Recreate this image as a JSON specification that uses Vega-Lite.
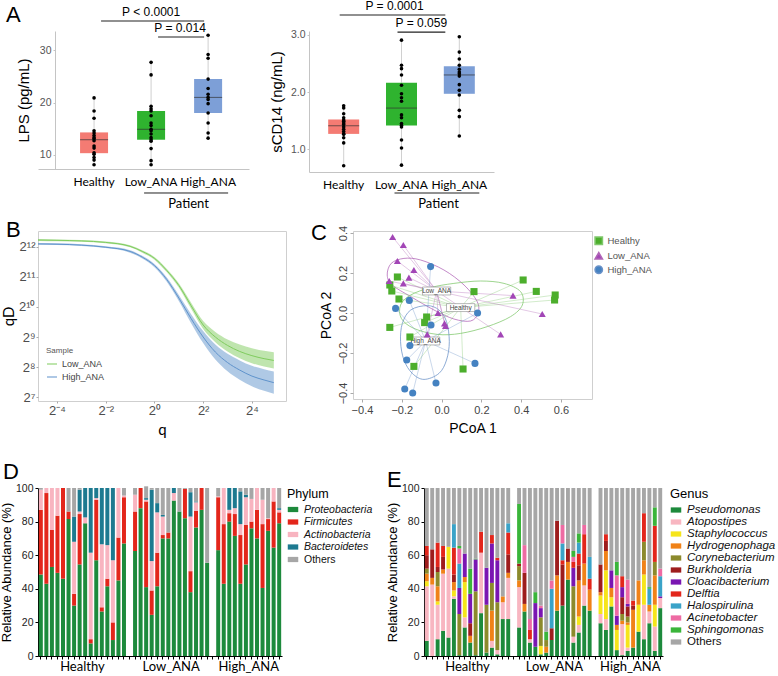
{
"$schema":"https://vega.github.io/schema/vega-lite/v6.json",
"padding":{"left":0,"top":0,"right":0,"bottom":0},
"background":"white",
"config":{
  "font":"Liberation Sans",
  "view":{"stroke":null},
  "axis":{"grid":false,"titleFontWeight":"normal","labelFont":"Liberation Sans","titleFont":"Liberation Sans"},
  "axisY":{"labelOverlap":false},
  "legend":{"titleFontWeight":"normal","labelFont":"Liberation Sans","titleFont":"Liberation Sans"},
  "title":{"fontWeight":"normal","font":"Liberation Sans","fontSize":22,"anchor":"start","frame":"group","offset":0,"color":"black"}
},
"datasets":{
  "lps":[
    {"grp":"Healthy","v":8.1},{"grp":"Healthy","v":9.0},{"grp":"Healthy","v":9.5},{"grp":"Healthy","v":10.1},{"grp":"Healthy","v":10.4},{"grp":"Healthy","v":11.3},{"grp":"Healthy","v":11.7},{"grp":"Healthy","v":12.7},{"grp":"Healthy","v":13.1},{"grp":"Healthy","v":13.3},{"grp":"Healthy","v":13.7},{"grp":"Healthy","v":14.2},{"grp":"Healthy","v":14.6},{"grp":"Healthy","v":17.0},{"grp":"Healthy","v":18.4},{"grp":"Healthy","v":20.9},
    {"grp":"Low_ANA","v":8.1},{"grp":"Low_ANA","v":8.9},{"grp":"Low_ANA","v":11.2},{"grp":"Low_ANA","v":12.6},{"grp":"Low_ANA","v":12.9},{"grp":"Low_ANA","v":13.3},{"grp":"Low_ANA","v":14.0},{"grp":"Low_ANA","v":14.6},{"grp":"Low_ANA","v":14.9},{"grp":"Low_ANA","v":15.6},{"grp":"Low_ANA","v":16.1},{"grp":"Low_ANA","v":17.5},{"grp":"Low_ANA","v":18.4},{"grp":"Low_ANA","v":18.8},{"grp":"Low_ANA","v":19.3},{"grp":"Low_ANA","v":25.3},{"grp":"Low_ANA","v":27.7},
    {"grp":"High_ANA","v":13.2},{"grp":"High_ANA","v":14.2},{"grp":"High_ANA","v":16.1},{"grp":"High_ANA","v":18.0},{"grp":"High_ANA","v":19.8},{"grp":"High_ANA","v":20.6},{"grp":"High_ANA","v":21.0},{"grp":"High_ANA","v":21.6},{"grp":"High_ANA","v":22.7},{"grp":"High_ANA","v":24.5},{"grp":"High_ANA","v":28.5},{"grp":"High_ANA","v":29.2},{"grp":"High_ANA","v":32.9}
  ],
  "scd":[
    {"grp":"Healthy","v":0.71},{"grp":"Healthy","v":1.11},{"grp":"Healthy","v":1.20},{"grp":"Healthy","v":1.26},{"grp":"Healthy","v":1.27},{"grp":"Healthy","v":1.31},{"grp":"Healthy","v":1.35},{"grp":"Healthy","v":1.39},{"grp":"Healthy","v":1.43},{"grp":"Healthy","v":1.46},{"grp":"Healthy","v":1.49},{"grp":"Healthy","v":1.51},{"grp":"Healthy","v":1.55},{"grp":"Healthy","v":1.62},{"grp":"Healthy","v":1.72},{"grp":"Healthy","v":1.76},
    {"grp":"Low_ANA","v":0.72},{"grp":"Low_ANA","v":1.02},{"grp":"Low_ANA","v":1.16},{"grp":"Low_ANA","v":1.39},{"grp":"Low_ANA","v":1.42},{"grp":"Low_ANA","v":1.45},{"grp":"Low_ANA","v":1.55},{"grp":"Low_ANA","v":1.60},{"grp":"Low_ANA","v":1.84},{"grp":"Low_ANA","v":1.90},{"grp":"Low_ANA","v":1.97},{"grp":"Low_ANA","v":2.12},{"grp":"Low_ANA","v":2.30},{"grp":"Low_ANA","v":2.41},{"grp":"Low_ANA","v":2.47},{"grp":"Low_ANA","v":2.91},
    {"grp":"High_ANA","v":1.23},{"grp":"High_ANA","v":1.57},{"grp":"High_ANA","v":1.68},{"grp":"High_ANA","v":1.95},{"grp":"High_ANA","v":2.03},{"grp":"High_ANA","v":2.13},{"grp":"High_ANA","v":2.28},{"grp":"High_ANA","v":2.32},{"grp":"High_ANA","v":2.35},{"grp":"High_ANA","v":2.40},{"grp":"High_ANA","v":2.47},{"grp":"High_ANA","v":2.58},{"grp":"High_ANA","v":2.70},{"grp":"High_ANA","v":2.97}
  ],
  "sigL":[{"x1":"Healthy","x2":"High_ANA","mid":"Low_ANA","y":35.6,"label":"P < 0.0001","lvl":1},{"x1":"Low_ANA","x2":"High_ANA","mid":"High_ANA","y":32.55,"label":"P = 0.014","lvl":2}],
  "patL":[{"x1":"Low_ANA","x2":"High_ANA","y":2.71}],
  "sigR":[{"x1":"Healthy","x2":"High_ANA","mid":"Low_ANA","y":3.35,"label":"P = 0.0001","lvl":1},{"x1":"Low_ANA","x2":"High_ANA","mid":"High_ANA","y":3.05,"label":"P = 0.059","lvl":2}],
  "patR":[{"x1":"Low_ANA","x2":"High_ANA","y":0.232}],
  "div":[
    {"Sample":"Low_ANA","lq":-4.78,"ld":12.23,"lo":12.20,"hi":12.26},
    {"Sample":"Low_ANA","lq":-4,"ld":12.22,"lo":12.19,"hi":12.25},
    {"Sample":"Low_ANA","lq":-3,"ld":12.20,"lo":12.17,"hi":12.23},
    {"Sample":"Low_ANA","lq":-2,"ld":12.15,"lo":12.12,"hi":12.18},
    {"Sample":"Low_ANA","lq":-1,"ld":12.02,"lo":11.985,"hi":12.055},
    {"Sample":"Low_ANA","lq":-0.5,"ld":11.85,"lo":11.81,"hi":11.89},
    {"Sample":"Low_ANA","lq":0,"ld":11.62,"lo":11.575,"hi":11.665},
    {"Sample":"Low_ANA","lq":0.5,"ld":11.22,"lo":11.165,"hi":11.275},
    {"Sample":"Low_ANA","lq":1,"ld":10.72,"lo":10.65,"hi":10.79},
    {"Sample":"Low_ANA","lq":1.5,"ld":10.05,"lo":9.95,"hi":10.15},
    {"Sample":"Low_ANA","lq":2,"ld":9.40,"lo":9.27,"hi":9.53},
    {"Sample":"Low_ANA","lq":2.5,"ld":9.00,"lo":8.83,"hi":9.17},
    {"Sample":"Low_ANA","lq":3,"ld":8.72,"lo":8.52,"hi":8.92},
    {"Sample":"Low_ANA","lq":3.5,"ld":8.52,"lo":8.29,"hi":8.75},
    {"Sample":"Low_ANA","lq":4,"ld":8.38,"lo":8.13,"hi":8.63},
    {"Sample":"Low_ANA","lq":4.5,"ld":8.28,"lo":8.02,"hi":8.54},
    {"Sample":"Low_ANA","lq":4.9,"ld":8.22,"lo":7.95,"hi":8.49},
    {"Sample":"High_ANA","lq":-4.78,"ld":12.10,"lo":12.07,"hi":12.13},
    {"Sample":"High_ANA","lq":-4,"ld":12.09,"lo":12.06,"hi":12.12},
    {"Sample":"High_ANA","lq":-3,"ld":12.06,"lo":12.03,"hi":12.09},
    {"Sample":"High_ANA","lq":-2,"ld":11.99,"lo":11.96,"hi":12.02},
    {"Sample":"High_ANA","lq":-1,"ld":11.85,"lo":11.81,"hi":11.89},
    {"Sample":"High_ANA","lq":-0.5,"ld":11.66,"lo":11.615,"hi":11.705},
    {"Sample":"High_ANA","lq":0,"ld":11.38,"lo":11.325,"hi":11.435},
    {"Sample":"High_ANA","lq":0.5,"ld":10.92,"lo":10.85,"hi":10.99},
    {"Sample":"High_ANA","lq":1,"ld":10.30,"lo":10.20,"hi":10.40},
    {"Sample":"High_ANA","lq":1.5,"ld":9.62,"lo":9.47,"hi":9.77},
    {"Sample":"High_ANA","lq":2,"ld":9.00,"lo":8.80,"hi":9.20},
    {"Sample":"High_ANA","lq":2.5,"ld":8.50,"lo":8.25,"hi":8.75},
    {"Sample":"High_ANA","lq":3,"ld":8.15,"lo":7.86,"hi":8.44},
    {"Sample":"High_ANA","lq":3.5,"ld":7.90,"lo":7.58,"hi":8.22},
    {"Sample":"High_ANA","lq":4,"ld":7.70,"lo":7.36,"hi":8.04},
    {"Sample":"High_ANA","lq":4.5,"ld":7.57,"lo":7.21,"hi":7.93},
    {"Sample":"High_ANA","lq":4.9,"ld":7.48,"lo":7.11,"hi":7.85}
  ],
  "pco":[
    {"grp":"Healthy","x":-0.222,"y":0.18},{"grp":"Healthy","x":-0.26,"y":0.14},{"grp":"Healthy","x":-0.25,"y":0.11},{"grp":"Healthy","x":-0.214,"y":0.07},{"grp":"Healthy","x":0.163,"y":0.107},{"grp":"Healthy","x":0.41,"y":0.165},{"grp":"Healthy","x":0.476,"y":0.108},{"grp":"Healthy","x":0.571,"y":0.09},{"grp":"Healthy","x":0.568,"y":0.065},{"grp":"Healthy","x":-0.075,"y":-0.02},{"grp":"Healthy","x":-0.085,"y":-0.048},{"grp":"Healthy","x":-0.26,"y":-0.072},{"grp":"Healthy","x":-0.159,"y":-0.12},{"grp":"Healthy","x":-0.139,"y":-0.267},{"grp":"Healthy","x":0.108,"y":-0.28},
    {"grp":"Low_ANA","x":-0.246,"y":0.38},{"grp":"Low_ANA","x":-0.192,"y":0.34},{"grp":"Low_ANA","x":-0.222,"y":0.26},{"grp":"Low_ANA","x":-0.139,"y":0.215},{"grp":"Low_ANA","x":-0.263,"y":0.16},{"grp":"Low_ANA","x":-0.164,"y":0.177},{"grp":"Low_ANA","x":-0.192,"y":0.148},{"grp":"Low_ANA","x":0.359,"y":0.087},{"grp":"Low_ANA","x":0.506,"y":-0.005},{"grp":"Low_ANA","x":-0.018,"y":0.0},{"grp":"Low_ANA","x":0.015,"y":-0.052},{"grp":"Low_ANA","x":0.02,"y":-0.065},{"grp":"Low_ANA","x":-0.072,"y":-0.107},{"grp":"Low_ANA","x":0.297,"y":-0.107},
    {"grp":"High_ANA","x":-0.055,"y":0.232},{"grp":"High_ANA","x":-0.162,"y":0.063},{"grp":"High_ANA","x":-0.231,"y":0.023},{"grp":"High_ANA","x":0.181,"y":0.0},{"grp":"High_ANA","x":-0.053,"y":-0.06},{"grp":"High_ANA","x":-0.159,"y":-0.163},{"grp":"High_ANA","x":-0.175,"y":-0.235},{"grp":"High_ANA","x":0.168,"y":-0.252},{"grp":"High_ANA","x":-0.028,"y":-0.35},{"grp":"High_ANA","x":-0.185,"y":-0.38},{"grp":"High_ANA","x":-0.145,"y":-0.40}
  ],
  "cent":[{"grp":"Low_ANA","cg":"Low_ANA","cx":-0.025,"cy":0.11},{"grp":"Healthy","cg":"Healthy","cx":0.096,"cy":0.027},{"grp":"High_ANA","cg":"High_ANA","cx":-0.08,"cy":-0.14}],
  "ell":[
    {"eg":"Low_ANA","ord":1,"ex":-0.273,"ey":0.19},{"eg":"Low_ANA","ord":2,"ex":-0.253,"ey":0.248},{"eg":"Low_ANA","ord":3,"ex":-0.189,"ey":0.273},{"eg":"Low_ANA","ord":4,"ex":-0.105,"ey":0.265},{"eg":"Low_ANA","ord":5,"ex":0.012,"ey":0.215},{"eg":"Low_ANA","ord":6,"ex":0.113,"ey":0.14},{"eg":"Low_ANA","ord":7,"ex":0.179,"ey":0.057},{"eg":"Low_ANA","ord":8,"ex":0.183,"ey":-0.002},{"eg":"Low_ANA","ord":9,"ex":0.146,"ey":-0.04},{"eg":"Low_ANA","ord":10,"ex":0.062,"ey":-0.03},{"eg":"Low_ANA","ord":11,"ex":-0.038,"ey":0.015},{"eg":"Low_ANA","ord":12,"ex":-0.155,"ey":0.082},{"eg":"Low_ANA","ord":13,"ex":-0.248,"ey":0.14},
    {"eg":"Healthy","ord":1,"ex":-0.206,"ey":0.04},{"eg":"Healthy","ord":2,"ex":-0.155,"ey":0.09},{"eg":"Healthy","ord":3,"ex":-0.055,"ey":0.127},{"eg":"Healthy","ord":4,"ex":0.062,"ey":0.148},{"eg":"Healthy","ord":5,"ex":0.196,"ey":0.16},{"eg":"Healthy","ord":6,"ex":0.314,"ey":0.148},{"eg":"Healthy","ord":7,"ex":0.397,"ey":0.107},{"eg":"Healthy","ord":8,"ex":0.406,"ey":0.04},{"eg":"Healthy","ord":9,"ex":0.347,"ey":-0.018},{"eg":"Healthy","ord":10,"ex":0.23,"ey":-0.068},{"eg":"Healthy","ord":11,"ex":0.096,"ey":-0.102},{"eg":"Healthy","ord":12,"ex":-0.022,"ey":-0.107},{"eg":"Healthy","ord":13,"ex":-0.139,"ey":-0.077},{"eg":"Healthy","ord":14,"ex":-0.202,"ey":-0.027},
    {"eg":"High_ANA","ord":1,"ex":-0.072,"ey":0.037},{"eg":"High_ANA","ord":2,"ex":-0.013,"ey":0.015},{"eg":"High_ANA","ord":3,"ex":0.025,"ey":-0.043},{"eg":"High_ANA","ord":4,"ex":0.039,"ey":-0.143},{"eg":"High_ANA","ord":5,"ex":0.025,"ey":-0.235},{"eg":"High_ANA","ord":6,"ex":-0.013,"ey":-0.302},{"eg":"High_ANA","ord":7,"ex":-0.088,"ey":-0.332},{"eg":"High_ANA","ord":8,"ex":-0.147,"ey":-0.302},{"eg":"High_ANA","ord":9,"ex":-0.189,"ey":-0.235},{"eg":"High_ANA","ord":10,"ex":-0.206,"ey":-0.143},{"eg":"High_ANA","ord":11,"ex":-0.197,"ey":-0.052},{"eg":"High_ANA","ord":12,"ex":-0.155,"ey":0.015}
  ],
  "phyla":[{"code":"Pro","name":"Proteobacteria","rank":1},{"code":"Fir","name":"Firmicutes","rank":2},{"code":"Act","name":"Actinobacteria","rank":3},{"code":"Bac","name":"Bacteroidetes","rank":4},{"code":"Oth","name":"Others","rank":5}],
  "genera":[{"code":"Pse","name":"Pseudomonas","rank":1},{"code":"Ato","name":"Atopostipes","rank":2},{"code":"Sta","name":"Staphylococcus","rank":3},{"code":"Hyd","name":"Hydrogenophaga","rank":4},{"code":"Cor","name":"Corynebacterium","rank":5},{"code":"Bur","name":"Burkholderia","rank":6},{"code":"Clo","name":"Cloacibacterium","rank":7},{"code":"Del","name":"Delftia","rank":8},{"code":"Hal","name":"Halospirulina","rank":9},{"code":"Aci","name":"Acinetobacter","rank":10},{"code":"Sph","name":"Sphingomonas","rank":11},{"code":"Oth","name":"Others","rank":12}],
  "phy":[
    {"s":"H1","Pro":48.5,"Fir":38.5,"Act":12,"Oth":1},{"s":"H2","Pro":43,"Fir":54,"Act":3},{"s":"H3","Pro":53,"Fir":22,"Act":25},{"s":"H4","Pro":49.5,"Fir":34,"Act":16.5},{"s":"H5","Pro":46,"Fir":54},{"s":"H6","Pro":81.5,"Fir":4.5,"Oth":14},{"s":"H7","Pro":30,"Fir":7,"Act":31,"Bac":15,"Oth":17},{"s":"H8","Pro":54.5,"Fir":30,"Act":1.5,"Bac":13,"Oth":1},{"s":"H9","Pro":79,"Act":3.5,"Bac":17.5},{"s":"H10","Pro":7.5,"Fir":2.5,"Act":51.5,"Bac":38.5},{"s":"H11","Pro":57,"Fir":36,"Act":1,"Bac":6},{"s":"H12","Pro":26.5,"Fir":2.5,"Act":37.5,"Bac":33.5},{"s":"H13","Pro":41.5,"Fir":4.5,"Act":20,"Bac":34},{"s":"H14","Pro":9.5,"Fir":10.5,"Act":37,"Bac":43},{"s":"H15","Pro":45,"Fir":25.5,"Act":29.5},{"s":"H16","Pro":67,"Fir":27.5,"Act":1,"Oth":4.5},
    {"s":"L1","Pro":62.5,"Fir":23.5,"Act":10,"Oth":4},{"s":"L2","Pro":88,"Fir":12},{"s":"L3","Pro":41,"Fir":51,"Act":1,"Bac":1,"Oth":7},{"s":"L4","Pro":24.5,"Fir":14.5,"Act":17.5,"Bac":42.5,"Oth":1},{"s":"L5","Pro":41.5,"Fir":20,"Act":24,"Bac":5.5,"Oth":9},{"s":"L6","Pro":70,"Fir":2,"Act":11,"Bac":1,"Oth":16},{"s":"L7","Pro":70,"Fir":3.5,"Oth":26.5},{"s":"L8","Pro":92.5,"Act":4.5,"Bac":3},{"s":"L9","Pro":86,"Oth":14},{"s":"L10","Pro":82,"Fir":17.5,"Oth":0.5},{"s":"L11","Pro":38,"Fir":12.5,"Act":32.5,"Bac":14.5,"Oth":2.5},{"s":"L12","Pro":76.5,"Fir":10,"Act":5,"Bac":0.5,"Oth":8},{"s":"L13","Pro":87,"Fir":13},{"s":"L14","Pro":55.5,"Oth":44.5},
    {"s":"P1","Pro":63,"Fir":31.5,"Act":0.5,"Oth":5},{"s":"P2","Pro":43,"Fir":35.5,"Act":21.5},{"s":"P3","Pro":80,"Fir":5,"Act":2,"Bac":13},{"s":"P4","Pro":71.5,"Fir":13,"Act":3.5,"Bac":12},{"s":"P5","Pro":43,"Fir":29,"Act":6.5,"Bac":19.5,"Oth":2},{"s":"P6","Pro":54.5,"Fir":23.5,"Act":16.5,"Bac":1.5,"Oth":4},{"s":"P7","Pro":76,"Fir":4,"Act":13.5,"Oth":6.5},{"s":"P8","Pro":70,"Fir":17,"Act":13},{"s":"P9","Pro":40.5,"Fir":38,"Act":14.5,"Oth":7},{"s":"P10","Pro":74.5,"Fir":7,"Act":0.5,"Oth":18},{"s":"P11","Pro":64.5,"Fir":27.5,"Act":8},{"s":"P12","Pro":79,"Fir":6.5,"Act":1.5,"Bac":1,"Oth":12}
  ],
  "gen":[
    {"s":"H1","Pse":9,"Ato":32.5,"Sta":3,"Hyd":4.5,"Cor":3,"Bur":8,"Del":5.5,"Oth":34.5},
    {"s":"H2","Ato":42.5,"Hyd":4,"Bur":17,"Oth":36.5},
    {"s":"H3","Pse":10,"Ato":20.5,"Sta":2,"Hyd":9,"Cor":8.5,"Bur":3,"Del":14.5,"Oth":32.5},
    {"s":"H4","Pse":15,"Ato":34,"Hyd":2.5,"Bur":7.5,"Del":6.5,"Oth":34.5},
    {"s":"H5","Pse":11,"Ato":41,"Sta":13,"Oth":35},
    {"s":"H6","Pse":34,"Ato":1.5,"Sta":3.5,"Hyd":5,"Bur":4.5,"Del":16,"Hal":14,"Oth":21.5},
    {"s":"H7","Pse":0.5,"Cor":24.5,"Clo":15.5,"Hal":14.5,"Aci":9,"Sph":1.5,"Oth":34.5},
    {"s":"H8","Pse":17,"Ato":6,"Sta":21,"Hyd":3,"Clo":14,"Oth":39},
    {"s":"H9","Pse":8,"Hyd":4,"Bur":7.5,"Clo":17.5,"Sph":15,"Oth":48},
    {"s":"H10","Pse":0.5,"Cor":38,"Clo":19,"Sph":0.5,"Oth":42},
    {"s":"H11","Pse":25.5,"Ato":36,"Del":12.5,"Oth":26},
    {"s":"H12","Pse":2,"Cor":28.5,"Clo":22,"Oth":47.5},
    {"s":"H13","Pse":5,"Ato":4,"Hyd":18,"Cor":16.5,"Clo":23.5,"Del":5,"Oth":28},
    {"s":"H14","Pse":1,"Ato":2.5,"Cor":28.5,"Clo":25,"Del":1.5,"Oth":41.5},
    {"s":"H15","Pse":22,"Ato":10,"Hyd":3.5,"Oth":64.5},
    {"s":"H16","Pse":22,"Ato":24.5,"Hyd":3,"Bur":11,"Del":13,"Hal":5.5,"Oth":21},
    {"s":"L1","Pse":17,"Ato":24,"Hyd":4,"Cor":8.5,"Bur":1.5,"Sph":35.5,"Oth":9.5},
    {"s":"L2","Pse":26.5,"Hyd":4.5,"Bur":18.5,"Aci":16.5,"Oth":34},
    {"s":"L3","Pse":8,"Ato":2,"Del":5.5,"Aci":6.5,"Oth":78},
    {"s":"L4","Pse":5.5,"Clo":26,"Sph":6.5,"Oth":62},
    {"s":"L5","Pse":1,"Sta":5,"Cor":17,"Clo":5.5,"Aci":1.5,"Oth":70},
    {"s":"L6","Pse":2,"Hyd":3.5,"Cor":4,"Sph":5,"Oth":85.5},
    {"s":"L7","Pse":9.5,"Bur":7,"Hal":23.5,"Aci":5,"Oth":55},
    {"s":"L8","Pse":27,"Hyd":21,"Bur":32.5,"Oth":19.5},
    {"s":"L9","Pse":30,"Bur":24.5,"Del":2.5,"Hal":10,"Aci":11,"Oth":22},
    {"s":"L10","Pse":45.5,"Hyd":10.5,"Bur":8,"Oth":36},
    {"s":"L11","Pse":8,"Ato":3.5,"Cor":30,"Clo":11,"Del":3.5,"Aci":3,"Sph":3.5,"Oth":37.5},
    {"s":"L12","Pse":14,"Ato":4.5,"Sta":5,"Hyd":21.5,"Bur":9,"Del":7,"Hal":6.5,"Sph":5.5,"Oth":27},
    {"s":"L13","Pse":30,"Ato":12,"Hyd":13,"Del":17.5,"Aci":5.5,"Oth":22},
    {"s":"L14","Pse":27,"Hyd":12.5,"Del":6.5,"Hal":13,"Oth":41},
    {"s":"P1","Pse":19.5,"Ato":5.5,"Sta":11,"Hyd":2,"Bur":16.5,"Oth":45.5},
    {"s":"P2","Pse":15.5,"Ato":6.5,"Sta":29,"Hyd":11.5,"Bur":6,"Del":4,"Oth":27.5},
    {"s":"P3","Pse":29.5,"Sta":5.5,"Hyd":5.5,"Clo":10.5,"Oth":49},
    {"s":"P4","Pse":3.5,"Sta":12,"Hyd":3,"Clo":5.5,"Aci":24,"Sph":8,"Oth":44},
    {"s":"P5","Pse":0.5,"Ato":18.5,"Hyd":2,"Cor":4,"Bur":10,"Clo":6,"Del":6.5,"Oth":52.5},
    {"s":"P6","Pse":3,"Ato":2,"Sta":13.5,"Hyd":1.5,"Cor":3.5,"Bur":6,"Clo":1.5,"Aci":14.5,"Oth":54.5},
    {"s":"P7","Pse":5,"Hyd":22.5,"Bur":2.5,"Del":3,"Oth":67},
    {"s":"P8","Pse":14.5,"Sta":16,"Hyd":14.5,"Oth":55},
    {"s":"P9","Pse":10,"Ato":20.5,"Sta":18,"Hyd":8.5,"Cor":11,"Del":17,"Oth":15},
    {"s":"P10","Pse":19.5,"Ato":7,"Hyd":4,"Hal":9.5,"Sph":1,"Oth":59},
    {"s":"P11","Pse":3,"Ato":14.5,"Sta":13,"Hyd":17.5,"Cor":8,"Del":21.5,"Sph":11,"Oth":11.5},
    {"s":"P12","Pse":28.5,"Ato":6,"Clo":1,"Hal":12,"Aci":4.5,"Oth":48}
  ]
},
"align":"none",
"resolve":{"scale":{"x":"independent","y":"independent","color":"independent","stroke":"independent","shape":"independent"},"legend":{"color":"independent","stroke":"independent","shape":"independent"},"axis":{"x":"independent","y":"independent"}},
"vconcat":[
  {"resolve":{"scale":{"x":"independent","y":"independent","color":"independent","stroke":"independent","shape":"independent"},"legend":{"color":"independent","stroke":"independent","shape":"independent"},"axis":{"x":"independent","y":"independent"}},
   "hconcat":[
    {"width":211,"height":138,
     "title":{"text":"A","dx":-32,"dy":25},
     "layer":[
       {"data":{"name":"lps"},
        "mark":{"type":"boxplot","extent":"min-max","size":28,"median":{"color":"#333333","strokeWidth":1},"rule":{"color":"#c4c4c4","strokeWidth":0.8},"ticks":false,"outliers":false},
        "encoding":{
          "x":{"field":"grp","type":"nominal","scale":{"domain":["Healthy","Low_ANA","High_ANA"],"paddingInner":0,"paddingOuter":0.35,"align":0.69},
               "axis":{"title":"Patient","titleX":150,"titleY":34,"titleBaseline":"middle","titleAlign":"center","titleFont":"Lato","titleFontSize":13,"titleColor":"black","labelFont":"Lato","labelFontSize":12,"labelColor":"black","labelAngle":0,"ticks":false,"domainColor":"#c4c4c4","labelPadding":7}},
          "y":{"field":"v","type":"quantitative","scale":{"domain":[7.3,33.7],"nice":false,"zero":false},
               "axis":{"title":"LPS (pg/mL)","offset":-17,"values":[10,15,20,25,30],"domainColor":"#c4c4c4","tickColor":"#c4c4c4","tickSize":2,"labelColor":"#555555","labelFontSize":10.5,"titleFontSize":15,"titleColor":"black","titlePadding":8,"labelPadding":2}},
          "color":{"field":"grp","type":"nominal","scale":{"domain":["Healthy","Low_ANA","High_ANA"],"range":["#f47b73","#2fb32f","#7d9fd7"]},"legend":null}
        }},
       {"data":{"name":"lps"},"mark":{"type":"circle","size":13,"color":"black","opacity":1},
        "encoding":{"x":{"field":"grp","type":"nominal"},"y":{"field":"v","type":"quantitative"}}},
       {"data":{"name":"sigL"},"mark":{"type":"rule","color":"#222222","strokeWidth":1.1,"xOffset":7,"x2Offset":-4},
        "encoding":{"x":{"field":"x1","type":"nominal"},"x2":{"field":"x2"},"y":{"field":"y","type":"quantitative"}}},
       {"data":{"name":"sigL"},"transform":[{"filter":"datum.lvl == 1"}],"mark":{"type":"text","baseline":"bottom","dy":-2,"fontSize":12,"color":"black"},
        "encoding":{"x":{"field":"mid","type":"nominal"},"y":{"field":"y","type":"quantitative"},"text":{"field":"label"}}},
       {"data":{"name":"sigL"},"transform":[{"filter":"datum.lvl == 2"}],"mark":{"type":"text","baseline":"bottom","dy":-2,"dx":-28,"fontSize":12,"color":"black"},
        "encoding":{"x":{"field":"mid","type":"nominal"},"y":{"field":"y","type":"quantitative"},"text":{"field":"label"}}},
       {"data":{"name":"patL"},"mark":{"type":"rule","color":"#222222","strokeWidth":1,"xOffset":-7,"x2Offset":20},
        "encoding":{"x":{"field":"x1","type":"nominal"},"x2":{"field":"x2"},"y":{"field":"y","type":"quantitative"}}}
     ]},
    {"width":185,"height":141,
     "layer":[
       {"data":{"name":"scd"},
        "mark":{"type":"boxplot","extent":"min-max","size":31,"median":{"color":"#333333","strokeWidth":1},"rule":{"color":"#c4c4c4","strokeWidth":0.8},"ticks":false,"outliers":false},
        "encoding":{
          "x":{"field":"grp","type":"nominal","scale":{"domain":["Healthy","Low_ANA","High_ANA"],"paddingInner":0,"paddingOuter":0.1},
               "axis":{"title":"Patient","titleX":129,"titleY":31,"titleBaseline":"middle","titleAlign":"center","titleFont":"Lato","titleFontSize":13,"titleColor":"black","labelFont":"Lato","labelFontSize":12,"labelColor":"black","labelAngle":0,"ticks":false,"domainColor":"#c4c4c4","labelPadding":7}},
          "y":{"field":"v","type":"quantitative","scale":{"domain":[0.6,3.07],"nice":false,"zero":false},
               "axis":{"title":"sCD14 (ng/mL)","values":[1.0,1.5,2.0,2.5,3.0],"format":".1f","domainColor":"#c4c4c4","tickColor":"#c4c4c4","tickSize":2,"labelColor":"#555555","labelFontSize":10.5,"titleFontSize":15,"titleColor":"black","titlePadding":6,"labelPadding":2}},
          "color":{"field":"grp","type":"nominal","scale":{"domain":["Healthy","Low_ANA","High_ANA"],"range":["#f47b73","#2fb32f","#7d9fd7"]},"legend":null}
        }},
       {"data":{"name":"scd"},"mark":{"type":"circle","size":13,"color":"black","opacity":1},
        "encoding":{"x":{"field":"grp","type":"nominal"},"y":{"field":"v","type":"quantitative"}}},
       {"data":{"name":"sigR"},"mark":{"type":"rule","color":"#222222","strokeWidth":1.1,"xOffset":-4,"x2Offset":-14},
        "encoding":{"x":{"field":"x1","type":"nominal"},"x2":{"field":"x2"},"y":{"field":"y","type":"quantitative"}}},
       {"data":{"name":"sigR"},"transform":[{"filter":"datum.lvl == 1"}],"mark":{"type":"text","baseline":"bottom","dy":-2,"dx":-7,"fontSize":12,"color":"black"},
        "encoding":{"x":{"field":"mid","type":"nominal"},"y":{"field":"y","type":"quantitative"},"text":{"field":"label"}}},
       {"data":{"name":"sigR"},"transform":[{"filter":"datum.lvl == 2"}],"mark":{"type":"text","baseline":"bottom","dy":-2,"dx":-38,"fontSize":12,"color":"black"},
        "encoding":{"x":{"field":"mid","type":"nominal"},"y":{"field":"y","type":"quantitative"},"text":{"field":"label"}}},
       {"data":{"name":"patR"},"mark":{"type":"rule","color":"#222222","strokeWidth":1,"xOffset":-7,"x2Offset":20},
        "encoding":{"x":{"field":"x1","type":"nominal"},"x2":{"field":"x2"},"y":{"field":"y","type":"quantitative"}}}
     ]}
  ],"spacing":20},
  {"align":"none",
   "resolve":{"scale":{"x":"independent","y":"independent","color":"independent","stroke":"independent","shape":"independent"},"legend":{"color":"independent","stroke":"independent","shape":"independent"},"axis":{"x":"independent","y":"independent"}},
   "vconcat":[
    {"resolve":{"scale":{"x":"independent","y":"independent","color":"independent","stroke":"independent","shape":"independent"},"legend":{"color":"independent","stroke":"independent","shape":"independent"},"axis":{"x":"independent","y":"independent"}},
     "hconcat":[
      {"width":248,"height":170,
       "view":{"stroke":"#cfcfcf"},
       "title":{"text":"B","dx":-32,"dy":15},
       "data":{"name":"div"},
       "layer":[
         {"mark":{"type":"area","opacity":0.5,"interpolate":"monotone"},
          "encoding":{
            "x":{"field":"lq","type":"quantitative","scale":{"domain":[-4.78,5.4],"nice":false,"zero":false},
                 "axis":{"title":"q","values":[-4,-2,0,2,4],"labelOverlap":false,"labelExpr":"datum.value == -4 ? '2⁻⁴' : datum.value == -2 ? '2⁻²' : datum.value == 0 ? '2⁰' : datum.value == 2 ? '2²' : '2⁴'","domain":false,"tickColor":"#aaaaaa","tickSize":2,"labelColor":"#4d4d4d","labelFontSize":13,"labelPadding":1,"titleFont":"Lato","titleFontSize":15,"titleColor":"black","titlePadding":5}},
            "y":{"field":"lo","type":"quantitative","stack":null,"scale":{"domain":[6.87,12.53],"nice":false,"zero":false},
                 "axis":{"title":"qD","values":[7,8,9,10,11,12],"labelOverlap":false,"labelSeparation":0,"labelBound":false,"labelExpr":"'2' + (datum.value == 7 ? '⁷' : datum.value == 8 ? '⁸' : datum.value == 9 ? '⁹' : datum.value == 10 ? '¹⁰' : datum.value == 11 ? '¹¹' : '¹²')","domain":false,"tickColor":"#aaaaaa","tickSize":2,"labelColor":"#4d4d4d","labelFontSize":13,"labelPadding":1,"titleFont":"Lato","titleFontSize":15,"titleColor":"black","titlePadding":2}},
            "y2":{"field":"hi"},
            "color":{"field":"Sample","type":"nominal","scale":{"domain":["Low_ANA","High_ANA"],"range":["#7fcc5e","#5f93cc"]},
                     "legend":{"orient":"none","legendX":8,"legendY":116,"title":"Sample","titleFontSize":8,"titleColor":"#555555","labelFontSize":9,"labelColor":"#444444","symbolType":"stroke","symbolStrokeWidth":2,"symbolSize":100,"rowPadding":2,"titlePadding":3}}
          }},
         {"mark":{"type":"line","strokeWidth":1,"interpolate":"monotone"},
          "encoding":{
            "x":{"field":"lq","type":"quantitative",
                 "axis":{"title":"q","values":[-4,-2,0,2,4],"labelOverlap":false,"labelExpr":"datum.value == -4 ? '2⁻⁴' : datum.value == -2 ? '2⁻²' : datum.value == 0 ? '2⁰' : datum.value == 2 ? '2²' : '2⁴'","domain":false,"tickColor":"#aaaaaa","tickSize":2,"labelColor":"#4d4d4d","labelFontSize":13,"labelPadding":1,"titleFont":"Lato","titleFontSize":15,"titleColor":"black","titlePadding":5}},
            "y":{"field":"ld","type":"quantitative",
                 "axis":{"title":"qD","values":[7,8,9,10,11,12],"labelOverlap":false,"labelSeparation":0,"labelBound":false,"labelExpr":"'2' + (datum.value == 7 ? '⁷' : datum.value == 8 ? '⁸' : datum.value == 9 ? '⁹' : datum.value == 10 ? '¹⁰' : datum.value == 11 ? '¹¹' : '¹²')","domain":false,"tickColor":"#aaaaaa","tickSize":2,"labelColor":"#4d4d4d","labelFontSize":13,"labelPadding":1,"titleFont":"Lato","titleFontSize":15,"titleColor":"black","titlePadding":2}},
            "color":{"field":"Sample","type":"nominal"}}}
       ]},
      {"width":239,"height":168,
       "view":{"stroke":"#cfcfcf"},
       "title":{"text":"C","dx":-42,"dy":24},
       "layer":[
         {"data":{"name":"pco"},"mark":{"type":"point","filled":true,"opacity":0,"size":50},
          "encoding":{"x":{"field":"x","type":"quantitative","scale":{"domain":[-0.445,0.756],"nice":false,"zero":false},
                 "axis":{"title":"PCoA 1","values":[-0.4,-0.2,0,0.2,0.4,0.6],"format":".1f","domain":false,"tickColor":"#aaaaaa","tickSize":3,"labelColor":"#444444","labelFontSize":11,"titleFontSize":14,"titleColor":"black","titlePadding":6}},
            "y":{"field":"y","type":"quantitative","scale":{"domain":[-0.43,0.41],"nice":false,"zero":false},
                 "axis":{"title":"PCoA 2","values":[-0.4,-0.2,0,0.2,0.4],"format":".1f","labelAngle":-90,"labelAlign":"center","labelBaseline":"bottom","domain":false,"tickColor":"#aaaaaa","tickSize":3,"labelColor":"#444444","labelFontSize":11,"titleFontSize":14,"titleColor":"black","titlePadding":4}},
            "color":{"field":"grp","type":"nominal","scale":{"domain":["Healthy","Low_ANA","High_ANA"],"range":["#4cae2c","#a246b6","#4582c1"]},
                     "legend":{"title":null,"orient":"none","legendX":241,"legendY":5,"labelFontSize":9.5,"labelColor":"#555555","symbolSize":55,"symbolOpacity":1,"rowPadding":1,
                               "encode":{"symbols":{"update":{"shape":{"signal":"datum.value === 'Healthy' ? 'square' : datum.value === 'Low_ANA' ? 'triangle-up' : 'circle'"},"opacity":{"value":1},"fillOpacity":{"value":1}}}}}},
            "shape":{"field":"grp","type":"nominal","scale":{"domain":["Healthy","Low_ANA","High_ANA"],"range":["square","triangle-up","circle"]},"legend":null}}},
         {"data":{"name":"ell"},"mark":{"type":"line","interpolate":"cardinal-closed","strokeWidth":0.9,"opacity":0.85},
          "encoding":{
            "x":{"field":"ex","type":"quantitative"},
            "y":{"field":"ey","type":"quantitative"},
            "stroke":{"field":"eg","type":"nominal","scale":{"domain":["Healthy","Low_ANA","High_ANA"],"range":["#80c86c","#b065b7","#6a92c8"]},"legend":null},
            "order":{"field":"ord","type":"quantitative"}
          }},
         {"data":{"name":"pco"},"transform":[{"lookup":"grp","from":{"data":{"name":"cent"},"key":"grp","fields":["cx","cy","cg"]}}],
          "mark":{"type":"rule","strokeWidth":0.6,"opacity":0.6},
          "encoding":{"x":{"field":"x","type":"quantitative"},"y":{"field":"y","type":"quantitative"},"x2":{"field":"cx"},"y2":{"field":"cy"},"stroke":{"field":"cg","type":"nominal","legend":null}}},
         {"data":{"name":"cent"},"mark":{"type":"point","shape":"M-1,-0.28L1,-0.28L1,0.28L-1,0.28Z","size":800,"filled":true,"fill":"white","fillOpacity":1,"stroke":"#888888","strokeWidth":0.6},
          "encoding":{"x":{"field":"cx","type":"quantitative"},"y":{"field":"cy","type":"quantitative"}}},
         {"data":{"name":"cent"},"mark":{"type":"text","fontSize":6.5,"color":"#444444"},
          "encoding":{"x":{"field":"cx","type":"quantitative"},"y":{"field":"cy","type":"quantitative"},"text":{"field":"grp"}}},
         {"data":{"name":"pco"},"mark":{"type":"point","filled":true,"opacity":1,"size":50},
          "encoding":{"x":{"field":"x","type":"quantitative"},"y":{"field":"y","type":"quantitative"},
            "color":{"field":"grp","type":"nominal"},
            "shape":{"field":"grp","type":"nominal"}}}
       ]}
    ],"spacing":23},
    {"resolve":{"scale":{"x":"independent","y":"independent","color":"independent"},"legend":{"color":"independent"},"axis":{"x":"independent","y":"independent"}},
     "hconcat":[
      {"width":244,"height":168,
       "title":{"text":"D","dx":-35,"dy":5},
       "data":{"name":"phy"},
       "transform":[{"fold":["Pro","Fir","Act","Bac","Oth"],"as":["code","pct"]},{"filter":"datum.pct > 0"},{"lookup":"code","from":{"data":{"name":"phyla"},"key":"code","fields":["name","rank"]}}],
       "mark":{"type":"bar"},
       "encoding":{
         "x":{"field":"s","type":"nominal","scale":{"domain":["H1","H2","H3","H4","H5","H6","H7","H8","H9","H10","H11","H12","H13","H14","H15","H16","g1","L1","L2","L3","L4","L5","L6","L7","L8","L9","L10","L11","L12","L13","L14","g2","P1","P2","P3","P4","P5","P6","P7","P8","P9","P10","P11","P12"],"paddingInner":0.28,"paddingOuter":0.15},
              "axis":{"title":null,"labelExpr":"datum.value == 'H8' ? 'Healthy' : datum.value == 'L7' ? 'Low_ANA' : datum.value == 'P6' ? 'High_ANA' : ''","labelAngle":0,"labelOffset":2.8,"labelOverlap":false,"tickColor":"black","tickSize":3,"domainColor":"black","labelFont":"Lato","labelFontSize":13,"labelColor":"black","labelPadding":1}},
         "y":{"field":"pct","type":"quantitative","stack":"zero","scale":{"domain":[0,100],"nice":false},
              "axis":{"title":"Relative Abundance (%)","values":[0,20,40,60,80,100],"domainColor":"black","tickColor":"black","tickSize":3,"labelColor":"#222222","labelFontSize":10.5,"labelPadding":2,"titleFontSize":13,"titleColor":"black","titlePadding":2}},
         "color":{"field":"name","type":"nominal","scale":{"domain":["Proteobacteria","Firmicutes","Actinobacteria","Bacteroidetes","Others"],"range":["#1d8a3c","#e3261b","#f8b4c0","#1d7a90","#a6a6a6"]},
                  "legend":{"title":"Phylum","orient":"right","offset":5,"titleFontSize":12.5,"titleColor":"black","labelFontSize":10.5,"labelColor":"#111111","symbolType":"M-1,-0.5L1,-0.5L1,0.5L-1,0.5Z","symbolSize":110,"rowPadding":0.5,"titlePadding":3,"labelOffset":5,
                            "encode":{"labels":{"update":{"fontStyle":{"signal":"datum.value === 'Others' ? 'normal' : 'italic'"}}}}}},
         "order":{"field":"rank","type":"quantitative","sort":"ascending"}
       }},
      {"width":239,"height":168,
       "title":{"text":"E","dx":-37,"dy":13},
       "data":{"name":"gen"},
       "transform":[{"fold":["Pse","Ato","Sta","Hyd","Cor","Bur","Clo","Del","Hal","Aci","Sph","Oth"],"as":["code","pct"]},{"filter":"datum.pct > 0"},{"lookup":"code","from":{"data":{"name":"genera"},"key":"code","fields":["name","rank"]}}],
       "mark":{"type":"bar"},
       "encoding":{
         "x":{"field":"s","type":"nominal","scale":{"domain":["H1","H2","H3","H4","H5","H6","H7","H8","H9","H10","H11","H12","H13","H14","H15","H16","g1","L1","L2","L3","L4","L5","L6","L7","L8","L9","L10","L11","L12","L13","L14","g2","P1","P2","P3","P4","P5","P6","P7","P8","P9","P10","P11","P12"],"paddingInner":0.28,"paddingOuter":0.15},
              "axis":{"title":null,"labelExpr":"datum.value == 'H8' ? 'Healthy' : datum.value == 'L7' ? 'Low_ANA' : datum.value == 'P6' ? 'High_ANA' : ''","labelAngle":0,"labelOffset":2.7,"labelOverlap":false,"tickColor":"black","tickSize":3,"domainColor":"black","labelFont":"Lato","labelFontSize":13,"labelColor":"black","labelPadding":1}},
         "y":{"field":"pct","type":"quantitative","stack":"zero","scale":{"domain":[0,100],"nice":false},
              "axis":{"title":"Relative Abundance (%)","values":[0,20,40,60,80,100],"domainColor":"black","tickColor":"black","tickSize":3,"labelColor":"#222222","labelFontSize":10.5,"labelPadding":2,"titleFontSize":13,"titleColor":"black","titlePadding":2}},
         "color":{"field":"name","type":"nominal","scale":{"domain":["Pseudomonas","Atopostipes","Staphylococcus","Hydrogenophaga","Corynebacterium","Burkholderia","Cloacibacterium","Delftia","Halospirulina","Acinetobacter","Sphingomonas","Others"],"range":["#1d8a3c","#f8b6c1","#f6e51b","#f08218","#8c8a2c","#9e1d1d","#7a16b2","#e3261b","#3aa3c8","#ee6ba3","#3ab53a","#a6a6a6"]},
                  "legend":{"title":"Genus","orient":"right","offset":7,"titleFontSize":13,"titleColor":"black","labelFontSize":11.5,"labelColor":"#111111","symbolType":"M-1,-0.5L1,-0.5L1,0.5L-1,0.5Z","symbolSize":110,"rowPadding":0,"titlePadding":3,"labelOffset":5,
                            "encode":{"labels":{"update":{"fontStyle":{"signal":"datum.value === 'Others' ? 'normal' : 'italic'"}}}}}},
         "order":{"field":"rank","type":"quantitative","sort":"ascending"}
       }}
    ],"spacing":13}
  ],"spacing":23}
],
"spacing":8
}
